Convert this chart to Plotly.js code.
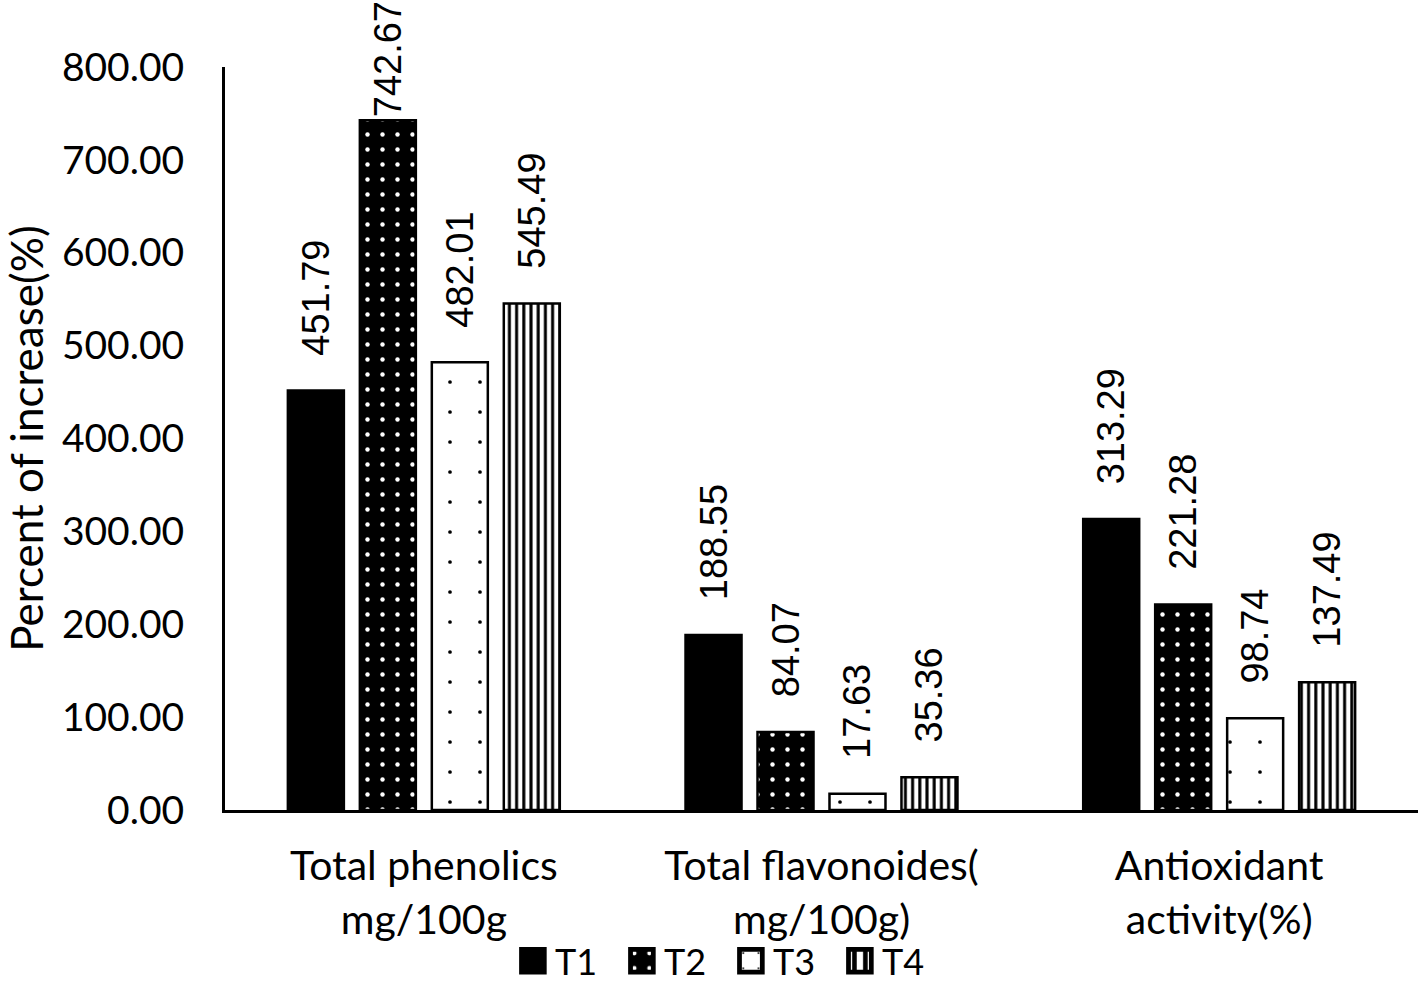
<!DOCTYPE html>
<html>
<head>
<meta charset="utf-8">
<script src="https://cdn.plot.ly/plotly-3.0.1.min.js"></script>
<style>html,body{margin:0;padding:0;background:#fff;}#chart{width:1418px;height:983px;}</style>
</head>
<body>
<div id="chart"></div>
<script>
const categories = ["Total phenolics<br>mg/100g", "Total flavonoides(<br>mg/100g)", "Antioxidant<br>activity(%)"];
const seriesNames = ["T1", "T2", "T3", "T4"];
const T1 = [451.79, 188.55, 313.29];
const T2 = [742.67, 84.07, 221.28];
const T3 = [482.01, 17.63, 98.74];
const T4 = [545.49, 35.36, 137.49];
const yTicks = [0, 100, 200, 300, 400, 500, 600, 700, 800];

const patterns = [
  {shape: "", fillmode: "replace"},
  {shape: ".", bgcolor: "#000", fgcolor: "#fff", size: 15, solidity: 0.07, fillmode: "replace"},
  {shape: ".", bgcolor: "#fff", fgcolor: "#000", size: 30, solidity: 0.012, fillmode: "replace"},
  {shape: "|", bgcolor: "#fff", fgcolor: "#000", size: 7.2, solidity: 0.42, fillmode: "replace"}
];
const colors = ["#000", "#000", "#fff", "#fff"];
const allSeries = [T1, T2, T3, T4];
const PAD = "\u00a0\u00a0\u00a0";

const traces = allSeries.map((vals, i) => ({
  type: "bar",
  name: seriesNames[i],
  x: categories,
  y: vals,
  marker: {color: colors[i], line: {color: "#000", width: 2.5}, pattern: patterns[i]},
  // labels near the top of the axis sit right on the bar (no room above)
  texttemplate: vals.map(v => (v > 650 ? "" : PAD) + "%{y:.2f}"),
  textposition: "outside",
  textangle: -90,
  constraintext: "none",
  cliponaxis: false,
  textfont: {family: "Liberation Sans, Arial, sans-serif", size: 38, color: "#000"},
  hoverinfo: "none"
}));

const layout = {
  width: 1418, height: 983,
  paper_bgcolor: "#fff", plot_bgcolor: "#fff",
  margin: {l: 225, r: 0, t: 67, b: 173, autoexpand: false},
  barmode: "group",
  bargap: 0.276,
  bargroupgap: 0.222,
  showlegend: true,
  legend: {orientation: "h", x: 0.243, xanchor: "left", y: -0.203, yanchor: "middle",
    entrywidth: 64, entrywidthmode: "pixels", bgcolor: "rgba(0,0,0,0)",
    font: {family: "Lato, sans-serif", size: 36, color: "#000"}, itemwidth: 30, traceorder: "normal"},
  font: {family: "Lato, sans-serif", color: "#000"},
  xaxis: {
    showline: true, linecolor: "#000", linewidth: 3, ticks: "", showgrid: false,
    tickfont: {family: "Lato, sans-serif", size: 41, color: "#000"},
    ticklabelstandoff: 18, automargin: false
  },
  yaxis: {
    range: [0, 800], tickvals: yTicks, tickformat: ".2f",
    showline: true, linecolor: "#000", linewidth: 3, ticks: "", showgrid: false, zeroline: false,
    tickfont: {family: "Lato, sans-serif", size: 39, color: "#000"},
    ticklabelstandoff: 30, automargin: false,
    title: {text: "Percent of increase(%)", font: {family: "Lato, sans-serif", size: 44, color: "#000"}, standoff: 10}
  }
};

Plotly.newPlot("chart", traces, layout, {displayModeBar: false, staticPlot: true}).then(gd => {
  // enlarge the legend swatches and bring them closer to their text, like the reference
  gd.querySelectorAll(".legend .legendpoints path").forEach(p => {
    p.setAttribute("transform", "translate(18,0) scale(1.9)");
  });
  gd.querySelectorAll(".legend [clip-path]").forEach(el => el.removeAttribute("clip-path"));
});
</script>
</body>
</html>
